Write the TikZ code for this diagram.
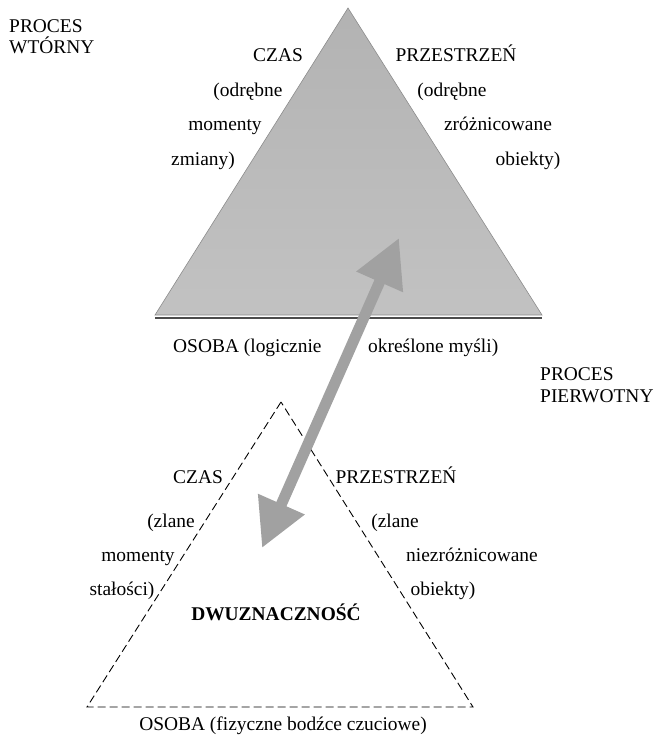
\documentclass[tikz,border=0pt]{standalone}
\usepackage{fontspec}
\setmainfont{Liberation Serif}
\usepackage{tikz}
\usetikzlibrary{arrows.meta}

\begin{document}
\begin{tikzpicture}[x=1bp, y=-1bp,
    lbl/.style={anchor=base, inner sep=0pt, font=\fontsize{19.5}{23}\selectfont},
    corner/.style={anchor=north west, inner sep=0pt, align=left, font=\fontsize{19.5}{21.5}\selectfont},
    pyramid/.style={draw=black!45, line width=0.6bp, top color=black!30, middle color=black!41, bottom color=black!24},
    dashtri/.style={draw, line width=0.9bp, dash pattern=on 8bp off 4bp},
    link/.style={black!37, line width=11bp, {Triangle[length=48bp, width=48bp]}-{Triangle[length=48bp, width=48bp]}}
  ]
  \useasboundingbox (0,0) rectangle (654,741);

  % upper triangle (secondary process)
  \coordinate (utop) at (348,8);
  \coordinate (ul) at (155,315);
  \coordinate (ur) at (542,315);
  \draw[black!70, line width=2bp] ([yshift=-2.5bp]ul) -- ([yshift=-2.5bp]ur);
  \path[pyramid] (utop) -- (ul) -- (ur) -- cycle;

  % lower triangle (primary process)
  \coordinate (ltop) at (281,402);
  \coordinate (ll) at (87,707);
  \coordinate (lr) at (473,707);
  \draw[dashtri] (ltop) -- (ll) -- (lr) -- cycle;

  % corner labels
  \node[corner] (wt) at (9,19) {PROCES\\WTÓRNY};
  \node[corner, font=\fontsize{19.5}{22.5}\selectfont] (pi) at (540,367) {PROCES\\PIERWOTNY};

  % upper labels
  \node[lbl] (ucz) at (278,62) {CZAS};
  \node[lbl] (uc1) at (248,96) {(odrębne};
  \node[lbl] (uc2) at (225,130) {momenty};
  \node[lbl] (uc3) at (203,165) {zmiany)};
  \node[lbl] (upr) at (456,62) {PRZESTRZEŃ};
  \node[lbl] (up1) at (452,96) {(odrębne};
  \node[lbl] (up2) at (498,130) {zróżnicowane};
  \node[lbl] (up3) at (528,165) {obiekty)};
  \node[lbl, anchor=base west] (uos1) at (173,352) {OSOBA (logicznie};
  \node[lbl, anchor=base west] (uos2) at (368,352) {określone myśli)};

  % lower labels
  \node[lbl] (lcz) at (198,483) {CZAS};
  \node[lbl] (lc1) at (171,527) {(zlane};
  \node[lbl] (lc2) at (138,561) {momenty};
  \node[lbl] (lc3) at (122,595) {stałości)};
  \node[lbl] (lpr) at (396,483) {PRZESTRZEŃ};
  \node[lbl] (lp1) at (395,527) {(zlane};
  \node[lbl] (lp2) at (472,561) {niezróżnicowane};
  \node[lbl] (lp3) at (443,595) {obiekty)};
  \node[lbl, font=\fontsize{19.5}{23}\selectfont\bfseries] (dw) at (276,620) {DWUZNACZNOŚĆ};
  \node[lbl] (los) at (283,730) {OSOBA (fizyczne bodźce czuciowe)};

  % double arrow between the two levels
  \coordinate (ahi) at (399,238);
  \coordinate (alo) at (262,548);
  \draw[link] (alo) -- (ahi);
\end{tikzpicture}
\end{document}
